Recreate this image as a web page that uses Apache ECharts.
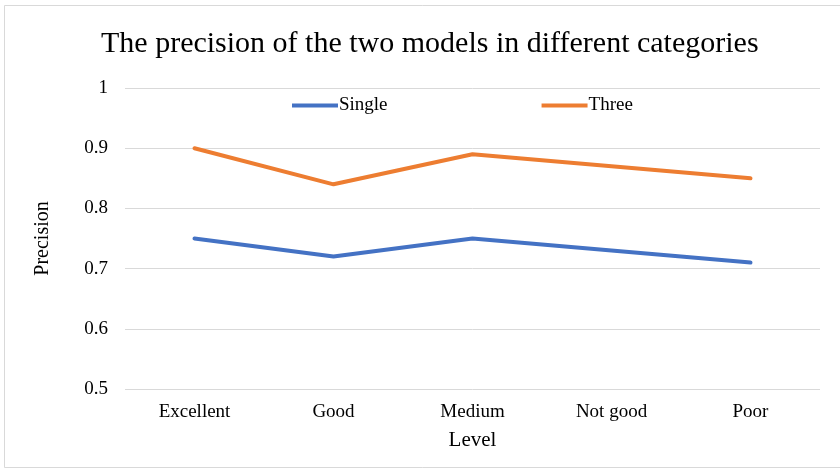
<!DOCTYPE html>
<html>
<head>
<meta charset="utf-8">
<script src="https://cdn.jsdelivr.net/npm/echarts@6/dist/echarts.min.js"></script>
<style>
  html, body { margin: 0; padding: 0; background: #fff; }
  #chart { width: 840px; height: 469px; }
</style>
</head>
<body>
<div id="chart"></div>
<script>
const categories = ['Excellent', 'Good', 'Medium', 'Not good', 'Poor'];
const singleValues = [0.75, 0.72, 0.75, 0.73, 0.71];
const threeValues = [0.90, 0.84, 0.89, 0.87, 0.85];
const seriesNames = ['Single', 'Three'];

const font = '"Liberation Serif", "Times New Roman", serif';
const chart = echarts.init(document.getElementById('chart'));

const option = {
  backgroundColor: '#fff',
  animation: false,
  title: {
    text: 'The precision of the two models in different categories',
    left: 96,
    top: 24,
    textStyle: { fontFamily: font, fontWeight: 'normal', fontSize: 30, color: '#000' }
  },
  legend: {
    data: seriesNames,
    top: 91,
    left: 287,
    itemGap: 154,
    itemWidth: 46,
    itemHeight: 4,
    icon: 'rect',
    textStyle: { fontFamily: font, fontSize: 19, color: '#000', padding: [0, 0, 0, -4] }
  },
  grid: { left: 125, right: 20, top: 88, bottom: 80 },
  xAxis: {
    type: 'category',
    data: categories,
    name: 'Level',
    nameLocation: 'middle',
    nameGap: 41,
    nameTextStyle: { fontFamily: font, fontSize: 21, color: '#000' },
    axisLine: { show: false },
    axisTick: { show: false },
    axisLabel: { fontFamily: font, fontSize: 19, color: '#000', margin: 14 }
  },
  yAxis: {
    type: 'value',
    min: 0.5,
    max: 1,
    interval: 0.1,
    name: 'Precision',
    nameLocation: 'middle',
    nameGap: 72,
    nameTextStyle: { fontFamily: font, fontSize: 20, color: '#000' },
    axisLine: { show: false },
    axisTick: { show: false },
    axisLabel: {
      fontFamily: font, fontSize: 19, color: '#000', margin: 17,
      formatter: v => String(Math.round(v * 10) / 10)
    },
    splitLine: { lineStyle: { color: '#d9d9d9', width: 1 } }
  },
  series: [
    {
      name: seriesNames[0],
      type: 'line',
      data: singleValues,
      symbol: 'none',
      color: '#4472c4',
      lineStyle: { width: 4, cap: 'round', join: 'round' }
    },
    {
      name: seriesNames[1],
      type: 'line',
      data: threeValues,
      symbol: 'none',
      color: '#ed7d31',
      lineStyle: { width: 4, cap: 'round', join: 'round' }
    }
  ],
  graphic: [{
    type: 'rect',
    shape: { x: 4.5, y: 5.5, width: 840, height: 462 },
    style: { fill: 'none', stroke: '#d9d9d9', lineWidth: 1 },
    silent: true
  }]
};

chart.setOption(option);
</script>
</body>
</html>
